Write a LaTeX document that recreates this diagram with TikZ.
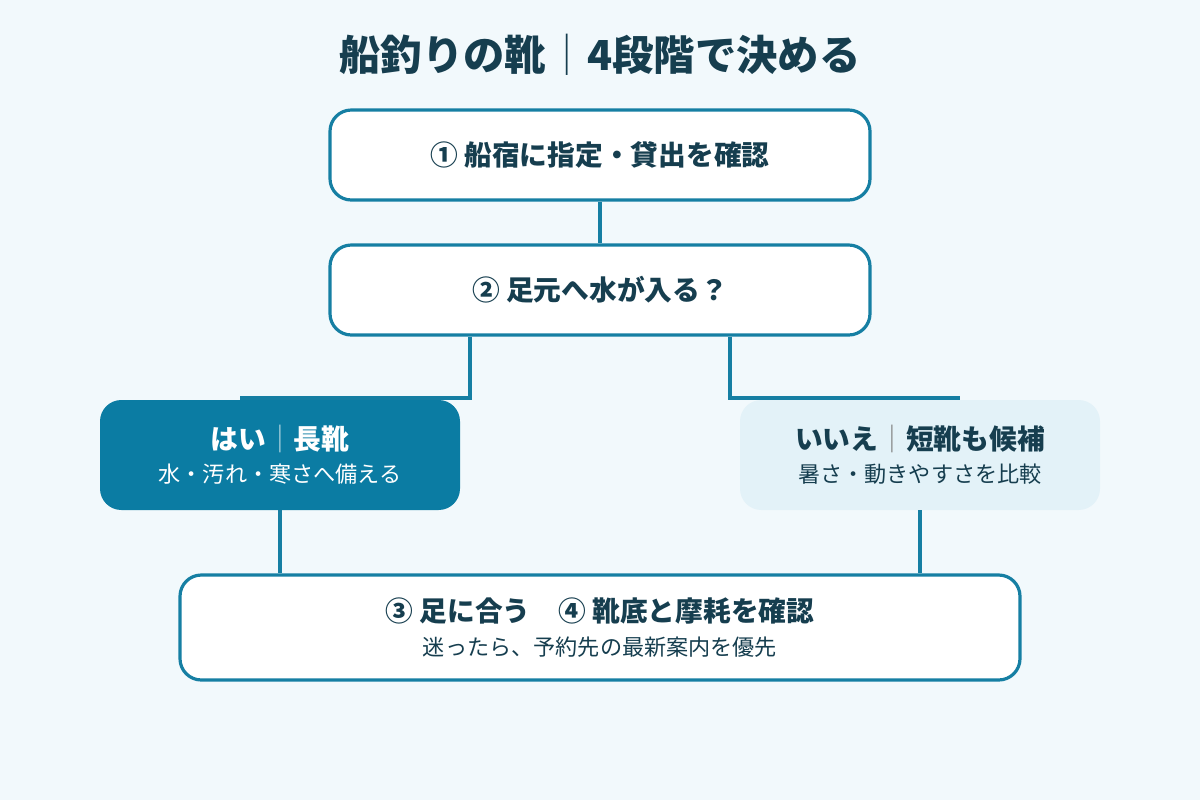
\documentclass[tikz,border=0pt]{standalone}
\usepackage{fontspec}
\setmainfont{Noto Sans CJK JP}
\usetikzlibrary{positioning}
\definecolor{bgc}{HTML}{F2F9FC}
\definecolor{linec}{HTML}{167FA3}
\definecolor{darkc}{HTML}{163E4F}
\definecolor{yesc}{HTML}{0B7CA3}
\definecolor{noc}{HTML}{E3F2F8}
\tikzset{
    stepnode/.style = {rectangle, rounded corners=16pt, line width=2.4pt, draw=linec, fill=white, text=darkc, align=center,
                       minimum width=405pt, minimum height=67.5pt, font=\bfseries\fontsize{20.8}{25}\selectfont},
    yesnode/.style = {rectangle, rounded corners=16pt, fill=yesc, text=white, align=center,
                      minimum width=270pt, minimum height=82.5pt},
    nonode/.style = {rectangle, rounded corners=16pt, fill=noc, text=darkc, align=center,
                     minimum width=270pt, minimum height=82.5pt},
    edgen/.style = {line width=2.6pt, draw=linec},
    maintxt/.style = {font=\bfseries\fontsize{20.8}{25}\selectfont},
}
\newcommand{\subtxt}[1]{{\mdseries\fontsize{16.6}{20}\selectfont #1}}
\begin{document}
\begin{tikzpicture}[x=0.75pt,y=-0.75pt]
  \useasboundingbox (0,0) rectangle (1200,800);
  \fill[bgc] (0,0) rectangle (1200,800);

  \node[text=darkc, font=\bfseries\fontsize{31}{36}\selectfont] (title) at (600,55)
    {船釣りの靴{\mdseries｜}4段階で決める};

  \node[stepnode] (s1) at (600,155) {① 船宿に指定・貸出を確認};
  \node[stepnode] (s2) at (600,290) {② 足元へ水が入る？};

  \node[yesnode, maintxt] (yes) at (280,455)
    {はい{\mdseries\color{white!70!yesc}｜}長靴\\[0pt]\subtxt{水・汚れ・寒さへ備える}};
  \node[nonode, maintxt] (no) at (920,455)
    {いいえ{\mdseries\color{gray}｜}短靴も候補\\[0pt]\subtxt{暑さ・動きやすさを比較}};

  \node[stepnode, minimum width=630pt, minimum height=78.75pt] (s3) at (600,627.5)
    {③ 足に合う　④ 靴底と摩耗を確認\\[0pt]\subtxt{迷ったら、予約先の最新案内を優先}};

  \coordinate (yesend) at (240,398);
  \coordinate (noend) at (960,398);

  \draw[edgen] (s1) -- (s2);
  \draw[edgen] ([xshift=-97.5pt]s2.south) |- (yesend);
  \draw[edgen] ([xshift=97.5pt]s2.south) |- (noend);
  \draw[edgen] (yes.south) -- (yes.south |- s3.north);
  \draw[edgen] (no.south) -- (no.south |- s3.north);
\end{tikzpicture}
\end{document}
